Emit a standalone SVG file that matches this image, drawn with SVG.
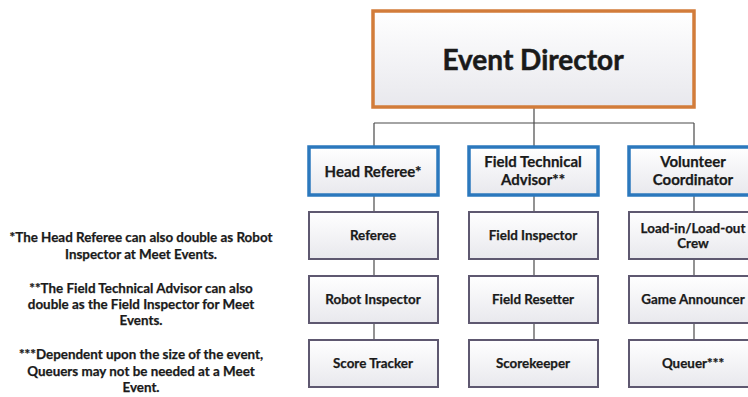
<svg xmlns="http://www.w3.org/2000/svg" width="748" height="397" viewBox="0 0 748 397">
  <defs>
    <linearGradient id="boxFill" x1="0" y1="0" x2="0" y2="1">
      <stop offset="0" stop-color="#ffffff"/>
      <stop offset="1" stop-color="#e8e8ed"/>
    </linearGradient>
    <style>
      text { font-family: "Lato", "Liberation Sans", sans-serif; font-weight: bold; fill: #1a1a1a; stroke: #1a1a1a; stroke-width: 0.25; text-anchor: middle; }
      .top { fill: url(#boxFill); stroke: #d27c3a; stroke-width: 3.5; }
      .lead { fill: url(#boxFill); stroke: #2b78bd; stroke-width: 3.5; }
      .role { fill: url(#boxFill); stroke: #5e5870; stroke-width: 2; }
      .title { font-size: 28px; stroke-width: 0.5; }
      .head { font-size: 15px; }
      .lbl { font-size: 13.4px; }
      .note { font-size: 13.4px; }
      .conn { fill: none; stroke: #4a4a4a; stroke-width: 1.2; }
    </style>
  </defs>
  <rect width="748" height="397" fill="#ffffff"/>

  <!-- connectors -->
  <g id="connectors" class="conn">
    <path d="M534 107 V123 M374 123 H694 M374 123 V147 M534 123 V147 M694 123 V147"/>
    <path d="M374 195 V339"/>
    <path d="M534 195 V339"/>
    <path d="M694 195 V339"/>
  </g>

  <!-- top level -->
  <g id="event-director">
    <rect class="top" x="373" y="11" width="321" height="96"/>
    <text class="title" x="533" y="70">Event Director</text>
  </g>

  <!-- leads -->
  <g id="head-referee">
    <rect class="lead" x="309" y="147" width="129" height="48"/>
    <text class="head" x="373" y="176.5">Head Referee*</text>
  </g>
  <g id="field-technical-advisor">
    <rect class="lead" x="469" y="147" width="129" height="48"/>
    <text class="head" x="533" y="167">Field Technical</text>
    <text class="head" x="533" y="185">Advisor**</text>
  </g>
  <g id="volunteer-coordinator">
    <rect class="lead" x="629" y="147" width="129" height="48"/>
    <text class="head" x="693" y="167">Volunteer</text>
    <text class="head" x="693" y="185">Coordinator</text>
  </g>

  <!-- column 1 -->
  <g id="referee">
    <rect class="role" x="309" y="212" width="129" height="47"/>
    <text class="lbl" x="373" y="240">Referee</text>
  </g>
  <g id="robot-inspector">
    <rect class="role" x="309" y="276" width="129" height="47"/>
    <text class="lbl" x="373" y="304">Robot Inspector</text>
  </g>
  <g id="score-tracker">
    <rect class="role" x="309" y="340" width="129" height="47"/>
    <text class="lbl" x="373" y="368">Score Tracker</text>
  </g>

  <!-- column 2 -->
  <g id="field-inspector">
    <rect class="role" x="469" y="212" width="129" height="47"/>
    <text class="lbl" x="533" y="240">Field Inspector</text>
  </g>
  <g id="field-resetter">
    <rect class="role" x="469" y="276" width="129" height="47"/>
    <text class="lbl" x="533" y="304">Field Resetter</text>
  </g>
  <g id="scorekeeper">
    <rect class="role" x="469" y="340" width="129" height="47"/>
    <text class="lbl" x="533" y="368">Scorekeeper</text>
  </g>

  <!-- column 3 -->
  <g id="load-crew">
    <rect class="role" x="629" y="212" width="129" height="47"/>
    <text class="lbl" x="693" y="233">Load-in/Load-out</text>
    <text class="lbl" x="693" y="248">Crew</text>
  </g>
  <g id="game-announcer">
    <rect class="role" x="629" y="276" width="129" height="47"/>
    <text class="lbl" x="693" y="304">Game Announcer</text>
  </g>
  <g id="queuer">
    <rect class="role" x="629" y="340" width="129" height="47"/>
    <text class="lbl" x="693" y="368">Queuer***</text>
  </g>

  <!-- footnotes -->
  <g id="notes">
    <text class="note" x="141" y="242">*The Head Referee can also double as Robot</text>
    <text class="note" x="141" y="259">Inspector at Meet Events.</text>
    <text class="note" x="141" y="293">**The Field Technical Advisor can also</text>
    <text class="note" x="141" y="308.5">double as the Field Inspector for Meet</text>
    <text class="note" x="141" y="324.5">Events.</text>
    <text class="note" x="141" y="359">***Dependent upon the size of the event,</text>
    <text class="note" x="141" y="376">Queuers may not be needed at a Meet</text>
    <text class="note" x="141" y="392">Event.</text>
  </g>
</svg>
